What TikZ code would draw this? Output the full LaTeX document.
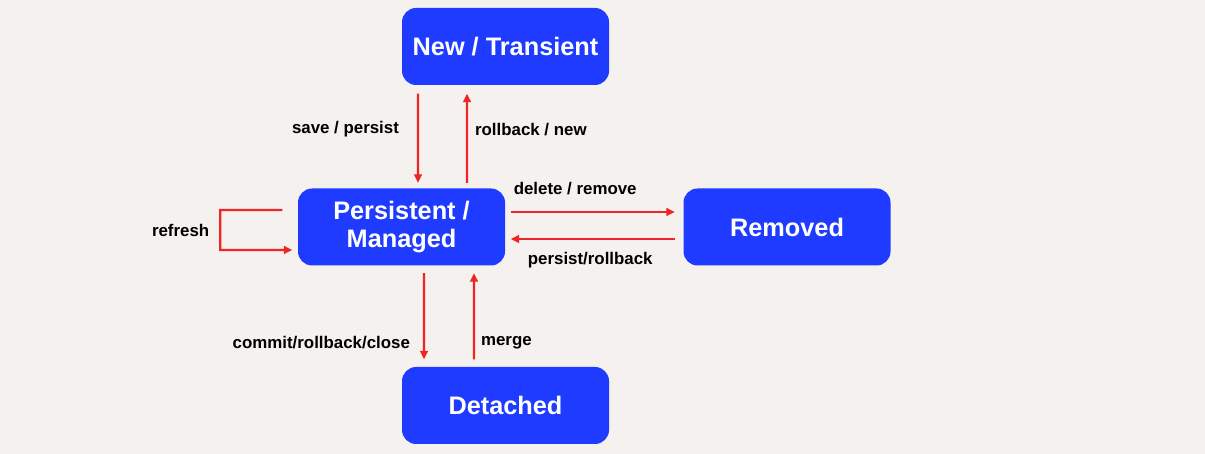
\documentclass[tikz,border=0pt]{standalone}
\usepackage{fontspec}
\setmainfont{Liberation Sans}
\usetikzlibrary{arrows.meta}
\definecolor{paper}{HTML}{F4F1EE}
\definecolor{stateblue}{HTML}{1F3BFF}
\definecolor{flowred}{HTML}{F02424}

\begin{document}
\begin{tikzpicture}[x=1cm,y=1cm,
    state/.style={fill=stateblue,text=white,rounded corners=4pt,minimum width=2.07cm,minimum height=0.77cm,inner sep=0pt,align=center,font=\fontsize{7.2}{8}\selectfont\bfseries},
    flow/.style={flowred,line width=0.6pt,-{Triangle[length=2.4pt,width=2.2pt]}},
    lbl/.style={text=black,font=\fontsize{4.8}{5.8}\selectfont\bfseries,inner sep=0pt}]
    \fill[paper] (0,0) rectangle (12.05,4.54);
    \node[state] (transient) at (5.055,4.075) {New / Transient};
    \node[state] (managed) at (4.015,2.27) {Persistent /\\Managed};
    \node[state] (removed) at (7.87,2.27) {Removed};
    \node[state] (detached) at (5.055,0.485) {Detached};
    % transient <-> managed
    \draw[flow,shorten <=0.8mm,shorten >=0.5mm] ([xshift=-8.75mm]transient.south) -- ([xshift=1.65mm]managed.north)
      node[lbl,left=1.8mm,pos=0.43] {save / persist};
    \draw[flow,shorten <=0.5mm,shorten >=0.8mm] ([xshift=6.55mm]managed.north) -- ([xshift=-3.85mm]transient.south)
      node[lbl,right=0.7mm,pos=0.57] {rollback / new};
    % managed <-> removed
    \draw[flow,shorten <=0.5mm,shorten >=0.8mm] ([yshift=1.5mm]managed.east) -- ([yshift=1.5mm]removed.west)
      node[lbl,pos=0,anchor=south west,xshift=0.7mm,yshift=1.6mm] {delete / remove};
    \draw[flow,shorten <=0.8mm,shorten >=0.5mm] ([yshift=-1.2mm]removed.west) -- ([yshift=-1.2mm]managed.east)
      node[lbl,below=1.2mm,midway,xshift=-0.4mm] {persist/rollback};
    % refresh loop
    \draw[flow,shorten <=1.5mm,shorten >=0.5mm] ([yshift=1.7mm]managed.west) -- ++(-7.7mm,0) -- ++(0,-4mm)
      node[lbl,left=1mm,midway] {refresh} -- ([yshift=-2.3mm]managed.west);
    % managed <-> detached
    \draw[flow,shorten <=0.7mm,shorten >=0.7mm] ([xshift=2.25mm]managed.south) -- ([xshift=-8.15mm]detached.north)
      node[lbl,left=1.3mm,pos=0.76] {commit/rollback/close};
    \draw[flow,shorten <=0.7mm,shorten >=0.7mm] ([xshift=-3.15mm]detached.north) -- ([xshift=7.25mm]managed.south)
      node[lbl,right=0.6mm,pos=0.24] {merge};
  \end{tikzpicture}
\end{document}
